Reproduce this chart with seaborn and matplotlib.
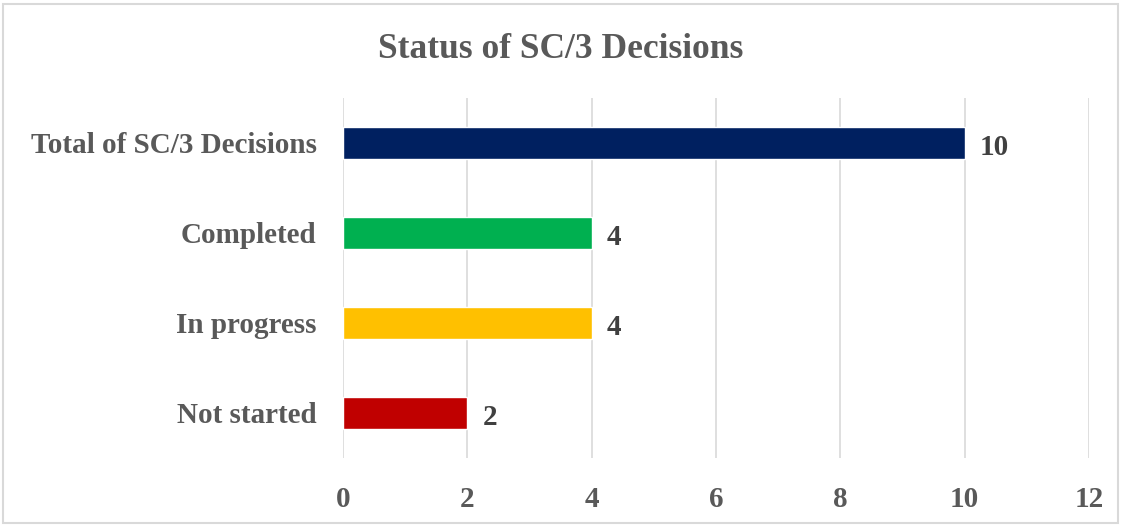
import matplotlib
matplotlib.use('Agg')
import matplotlib.pyplot as plt
from matplotlib.patches import Rectangle
import seaborn as sns
import pandas as pd

# Данные графика
statuses = ['Total of SC/3 Decisions', 'Completed', 'In progress', 'Not started']
counts = [10, 4, 4, 2]
colors = ['#002060', '#00B050', '#FFC000', '#C00000']
x_ticks = [0, 2, 4, 6, 8, 10, 12]

df = pd.DataFrame({'status': statuses, 'count': counts})

sns.set_style('white')
plt.rcParams['font.family'] = ['Liberation Serif', 'DejaVu Serif']
text_color = '#595959'

fig = plt.figure(figsize=(11.22, 5.26), dpi=100)
ax = fig.add_axes([0.3057, 0.1293, 0.6649, 0.6844])

sns.barplot(data=df, x='count', y='status', hue='status', palette=colors,
            orient='h', width=0.35, saturation=1, legend=False, ax=ax)

ax.set_xlim(0, 12)
ax.set_ylim(3.5, -0.5)
ax.set_xticks(x_ticks)
ax.set_xticklabels([str(t) for t in x_ticks])
ax.grid(axis='x', color='#D9D9D9', linewidth=1.2)
ax.set_axisbelow(True)
for s in ax.spines.values():
    s.set_visible(False)
ax.tick_params(axis='both', length=0, colors=text_color, labelsize=21)
ax.tick_params(axis='x', pad=20)
ax.tick_params(axis='y', pad=19)
for lbl in ax.get_xticklabels() + ax.get_yticklabels():
    lbl.set_fontweight('bold')
ax.set_xlabel('')
ax.set_ylabel('')

# Подписи значений
for i, v in enumerate(counts):
    ax.annotate(str(v), xy=(v, i), xytext=(11, -3), textcoords='offset points',
                va='center', ha='left', fontsize=21, fontweight='bold',
                color='#404040')

fig.text(0.5, 0.905, 'Status of SC/3 Decisions', ha='center', va='center',
         fontsize=25.5, fontweight='bold', color=text_color)

# Рамка вокруг диаграммы
fig.patches.append(Rectangle((0.003, 0.006), 0.993, 0.986, transform=fig.transFigure,
                             fill=False, edgecolor='#D9D9D9', linewidth=1.5))

fig.savefig('out.png', dpi=100)
